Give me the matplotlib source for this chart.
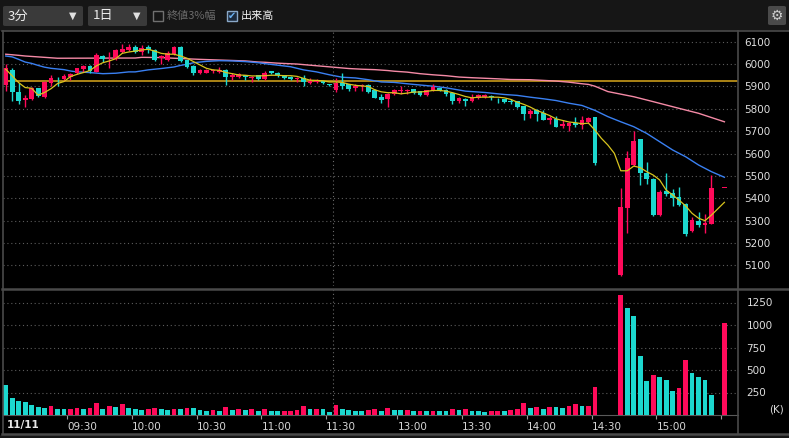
import matplotlib
matplotlib.use("Agg")
import matplotlib.pyplot as plt
from matplotlib.patches import Rectangle, FancyBboxPatch
from matplotlib.lines import Line2D

# 3-minute slots: morning 09:00-11:30 (0..50), afternoon 12:30-15:30 (51..111)
slots = list(range(0, 92)) + list(range(95, 110)) + [111]

opens = [5905, 5974, 5876, 5838, 5843, 5892, 5851, 5917, 5934, 5935,
         5944, 5961, 5977, 5992, 5966, 6036, 6025, 6024, 6054, 6064,
         6076, 6055, 6076, 6063, 6027, 6018, 6045, 6076, 6018, 5992,
         5962, 5962, 5968, 5965, 5974, 5941, 5944, 5950, 5938, 5950,
         5935, 5967, 5962, 5950, 5944, 5934, 5937, 5917, 5920, 5923,
         5908, 5884, 5917, 5910, 5892, 5900, 5908, 5884, 5855, 5843,
         5866, 5880, 5879, 5887, 5878, 5861, 5879, 5891, 5885, 5872,
         5833, 5846, 5833, 5849, 5852, 5857, 5846, 5842, 5834, 5834,
         5811, 5775, 5793, 5781, 5748, 5755, 5724, 5721, 5736, 5729,
         5740, 5762,
         5057, 5358, 5549, 5664, 5514, 5486, 5325, 5432, 5422, 5407,
         5375, 5254, 5298, 5282, 5285,
         5445]
highs = [5999, 5981, 5917, 5861, 5899, 5894, 5925, 5951, 5944, 5954,
         5962, 5984, 5995, 5995, 6048, 6040, 6054, 6069, 6088, 6088,
         6083, 6083, 6083, 6066, 6040, 6058, 6080, 6080, 6020, 5994,
         5976, 5977, 5980, 5987, 5977, 5959, 5962, 5953, 5946, 5952,
         5970, 5970, 5965, 5952, 5946, 5944, 5950, 5938, 5932, 5926,
         5910, 5937, 5960, 5912, 5910, 5912, 5913, 5887, 5865, 5870,
         5890, 5900, 5887, 5890, 5880, 5885, 5909, 5893, 5888, 5875,
         5852, 5848, 5867, 5867, 5864, 5861, 5848, 5845, 5845, 5836,
         5812, 5800, 5797, 5796, 5770, 5770, 5748, 5739, 5763, 5770,
         5763, 5765,
         5447, 5613, 5702, 5667, 5561, 5490, 5435, 5514, 5442, 5449,
         5378, 5318, 5337, 5330, 5504,
         5445]
lows = [5880, 5833, 5821, 5810, 5840, 5851, 5849, 5902, 5902, 5924,
        5929, 5955, 5964, 5960, 5963, 6010, 5984, 6020, 6050, 6057,
        6048, 6040, 6051, 6015, 6000, 6014, 6040, 6010, 5981, 5951,
        5955, 5958, 5962, 5962, 5907, 5929, 5938, 5928, 5918, 5930,
        5928, 5955, 5944, 5934, 5928, 5922, 5902, 5913, 5914, 5910,
        5903, 5875, 5887, 5880, 5880, 5880, 5872, 5848, 5828, 5808,
        5862, 5867, 5867, 5867, 5857, 5858, 5878, 5878, 5857, 5820,
        5825, 5811, 5830, 5845, 5849, 5840, 5825, 5828, 5822, 5805,
        5752, 5759, 5744, 5748, 5730, 5718, 5715, 5700, 5718, 5708,
        5738, 5550,
        5054, 5244, 5545, 5459, 5463, 5320, 5320, 5412, 5366, 5366,
        5232, 5251, 5270, 5244, 5283,
        5445]
closes = [5981, 5873, 5835, 5847, 5892, 5858, 5920, 5939, 5931, 5947,
          5956, 5981, 5992, 5969, 6041, 6021, 6028, 6063, 6066, 6076,
          6054, 6073, 6063, 6018, 6034, 6051, 6076, 6014, 5988, 5962,
          5974, 5972, 5974, 5974, 5940, 5950, 5955, 5940, 5942, 5935,
          5962, 5958, 5950, 5937, 5931, 5938, 5920, 5926, 5926, 5914,
          5905, 5914, 5902, 5887, 5902, 5907, 5875, 5850, 5840, 5868,
          5883, 5885, 5882, 5870, 5861, 5882, 5897, 5882, 5867, 5834,
          5849, 5833, 5849, 5861, 5861, 5852, 5842, 5830, 5830, 5808,
          5775, 5790, 5775, 5751, 5760, 5718, 5730, 5736, 5729, 5748,
          5760, 5556,
          5362, 5579, 5657, 5514, 5485, 5325, 5430, 5420, 5403, 5370,
          5239, 5303, 5281, 5288, 5447,
          5445]

volume_k = [333, 192, 155, 144, 111, 89, 78, 100, 67, 67,
            67, 81, 67, 78, 133, 67, 100, 89, 122, 78,
            67, 55, 67, 78, 67, 55, 67, 67, 78, 78,
            55, 44, 55, 44, 89, 55, 67, 55, 67, 44,
            67, 44, 44, 44, 44, 55, 100, 67, 67, 67,
            33, 111, 67, 55, 44, 44, 55, 67, 44, 78,
            55, 55, 55, 44, 44, 44, 44, 44, 44, 67,
            55, 67, 44, 44, 33, 44, 44, 44, 55, 67,
            133, 78, 89, 67, 89, 89, 78, 100, 122, 100,
            100, 311,
            1332, 1188, 1099, 655, 377, 444, 422, 389, 266, 300,
            610, 466, 422, 389, 222,
            1021]
volume_up = [0, 0, 0, 0, 0, 0, 0, 1, 0, 0,
             1, 1, 0, 1, 1, 0, 1, 0, 1, 0,
             0, 0, 1, 1, 0, 0, 1, 0, 1, 0,
             0, 0, 1, 0, 1, 0, 1, 0, 1, 0,
             1, 0, 0, 1, 1, 1, 1, 0, 1, 0,
             0, 1, 0, 0, 0, 0, 1, 1, 0, 1,
             0, 0, 1, 0, 1, 0, 1, 0, 0, 1,
             0, 1, 0, 0, 0, 1, 1, 0, 1, 1,
             1, 0, 1, 0, 1, 0, 0, 1, 1, 0,
             1, 1,
             1, 0, 0, 0, 0, 1, 0, 0, 0, 1,
             1, 0, 0, 0, 0,
             1]

ma_short_k = list(range(0, 110)) + [111]
ma_short = [5977, 5947, 5917, 5895, 5892, 5861, 5873, 5890, 5913, 5922,
            5944, 5954, 5962, 5971, 5992, 6006, 6014, 6024, 6048, 6054,
            6058, 6063, 6066, 6058, 6048, 6044, 6044, 6036, 6026, 6011,
            5996, 5981, 5974, 5972, 5962, 5957, 5951, 5950, 5947, 5947,
            5948, 5950, 5950, 5948, 5948, 5945, 5936, 5928, 5927, 5925,
            5920, 5920, 5918, 5910, 5905, 5902, 5900, 5885, 5876, 5872,
            5872, 5867, 5870, 5875, 5875, 5878, 5882, 5882, 5879, 5872,
            5864, 5855, 5849, 5852, 5852, 5852, 5852, 5849, 5842, 5830,
            5820, 5808, 5793, 5782, 5770, 5755, 5748, 5741, 5738, 5733,
            5736, 5705, 5668, 5638, 5601, 5523, 5523, 5544, 5537, 5519,
            5504, 5482, 5437, 5415, 5392, 5366, 5333, 5311, 5300, 5325,
            5382]

ma_mid_k = [0, 1, 2, 3, 4, 5, 6, 7, 8, 9, 10, 11, 13, 15, 17, 19, 20, 22, 24,
            26, 27, 28, 29, 31, 33, 35, 37, 39, 40, 42, 44, 46, 48, 50, 52,
            54, 56, 58, 60, 63, 66, 68, 71, 74, 77, 79, 81, 83, 85, 87, 89,
            91, 93, 95, 97, 99, 101, 103, 105, 107, 109, 111]
ma_mid = [6036, 6032, 6021, 6009, 6003, 5994, 5986, 5981, 5978, 5975, 5969,
          5965, 5962, 5957, 5959, 5965, 5965, 5974, 5980, 5987, 5994, 5999,
          6006, 6012, 6015, 6014, 6011, 6006, 6002, 5995, 5988, 5974, 5965,
          5952, 5941, 5938, 5930, 5920, 5918, 5909, 5901, 5894, 5879, 5873,
          5864, 5860, 5852, 5845, 5837, 5825, 5815, 5793, 5765, 5742, 5720,
          5690, 5653, 5616, 5586, 5549, 5519, 5494]

ma_long_k = [0, 2, 3, 5, 8, 20, 21, 24, 26, 30, 33, 37, 39, 40, 42, 45, 47,
             49, 51, 53, 55, 57, 59, 60, 62, 64, 66, 68, 70, 72, 76, 78, 81,
             83, 85, 87, 89, 90, 91, 93, 97, 100, 102, 104, 107, 111]
ma_long = [6044, 6039, 6036, 6032, 6026, 6027, 6030, 6029, 6026, 6021, 6018,
           6014, 6009, 6008, 6004, 6000, 5995, 5990, 5985, 5980, 5977, 5975,
           5971, 5968, 5964, 5957, 5952, 5948, 5942, 5939, 5934, 5931, 5930,
           5927, 5924, 5919, 5912, 5909, 5901, 5877, 5854, 5832, 5817, 5802,
           5780, 5742]

prev_close = 5924
price_ticks = [5100, 5200, 5300, 5400, 5500, 5600, 5700, 5800, 5900, 6000, 6100]
volume_ticks = [250, 500, 750, 1000, 1250]
time_tick_slots = [10, 20, 30, 40, 50, 61, 71, 81, 91, 101, 111]
time_labels = ["09:30", "10:00", "10:30", "11:00", "11:30", "13:00",
               "13:30", "14:00", "14:30", "15:00", ""]
session_break = 51

UP = "#ff0a5a"
DOWN = "#1cd8cf"
GRID = "#5c5c5c"
EDGE = "#4a4a4a"
W, H = 789, 438


def fx(px):
    return px / W


def fy(py):
    return 1 - py / H


fig = plt.figure(figsize=(W / 100, H / 100), dpi=100, facecolor="#161616")
fig.patches.append(Rectangle((0, fy(434)), 1, fy(30.5) - fy(434),
                             transform=fig.transFigure, color="#000000",
                             zorder=-10))

ax = fig.add_axes([fx(2.5), fy(286), fx(735.5), (286 - 30.5) / H])
axv = fig.add_axes([fx(2.5), fy(415), fx(735.5), (415 - 289) / H], sharex=ax)
for a in (ax, axv):
    a.set_facecolor("#000000")
    for s in a.spines.values():
        s.set_visible(False)

# candles
xs = [k + 0.5 for k in slots]
colors = [UP if c >= o else DOWN for o, c in zip(opens, closes)]
ax.vlines(xs, lows, highs, colors=colors, lw=1, zorder=3)
body_bottom = [min(o, c) for o, c in zip(opens, closes)]
body_height = [max(abs(c - o), 4) for o, c in zip(opens, closes)]
ax.bar(xs, body_height, bottom=body_bottom, width=0.74, color=colors,
       linewidth=0, zorder=4)

# lines
ax.axhline(prev_close, color="#d9a81c", lw=1.1, zorder=2)
ax.plot([k + 0.5 for k in ma_long_k], ma_long, color="#f58aa6", lw=1, zorder=2)
ax.plot([k + 0.5 for k in ma_mid_k], ma_mid, color="#3a80f2", lw=1, zorder=2)
ax.plot([k + 0.5 for k in ma_short_k], ma_short, color="#d8c41e", lw=0.9, zorder=5)

ax.set_xlim(0, 113.6)
ax.set_ylim(5008, 6150)
ax.set_yticks(price_ticks)
ax.yaxis.tick_right()
ax.tick_params(axis="y", length=0, pad=4.5, labelsize=7.5, labelcolor="#dedede")
ax.tick_params(axis="x", bottom=False, labelbottom=False)
ax.grid(axis="y", color=GRID, linestyle=(0, (1, 2.5)), lw=0.8)
ax.axvline(session_break, color="#6a6a6a", linestyle=(0, (1, 2.5)), lw=0.8)

# volume
vcol = [UP if u else DOWN for u in volume_up]
axv.bar(xs, volume_k, width=0.74, color=vcol, linewidth=0, zorder=3)
axv.set_ylim(0, 1400)
axv.set_yticks(volume_ticks)
axv.yaxis.tick_right()
axv.tick_params(axis="y", length=0, pad=6, labelsize=7.5, labelcolor="#dedede")
axv.grid(axis="y", color=GRID, linestyle=(0, (1, 2.5)), lw=0.8)
axv.axvline(session_break, color="#6a6a6a", linestyle=(0, (1, 2.5)), lw=0.8)
axv.set_xticks(time_tick_slots)
axv.set_xticklabels(time_labels)
axv.tick_params(axis="x", length=3, color="#9a9a9a", pad=2, labelsize=7.5,
                labelcolor="#d8d8d8")
for lbl in axv.get_xticklabels():
    lbl.set_ha("left")
axv.spines["bottom"].set_visible(True)
axv.spines["bottom"].set_color("#5a5a5a")

fig.text(fx(7), fy(425), "11/11", color="#e8e8e8", fontsize=7.5,
         fontweight="bold", va="center", ha="left")
fig.text(fx(769), fy(409), "(K)", color="#d8d8d8", fontsize=7.5,
         va="center", ha="left")

# frame lines
def hline(y, x0, x1, lw=1.2):
    fig.lines.append(Line2D([fx(x0), fx(x1)], [fy(y), fy(y)], color=EDGE,
                            lw=lw, transform=fig.transFigure))


def vline(x, y0, y1, lw=1.2):
    fig.lines.append(Line2D([fx(x), fx(x)], [fy(y0), fy(y1)], color=EDGE,
                            lw=lw, transform=fig.transFigure))


hline(30.5, 2, 789)
hline(288.5, 2, 789, lw=1.8)
hline(434, 2, 789, lw=1.8)
vline(2.5, 30.5, 434)
vline(738, 30.5, 434)

# header controls
CJK = ["Noto Sans CJK JP", "DejaVu Sans"]
for x0, x1, label in [(3, 83, "3分"), (88, 147, "1日")]:
    fig.patches.append(FancyBboxPatch((fx(x0), fy(26)), fx(x1 - x0), 20 / H,
                                      boxstyle="round,pad=0,rounding_size=0.003",
                                      transform=fig.transFigure,
                                      facecolor="#3a3a3a", edgecolor="none"))
    fig.text(fx(x0 + 5), fy(16), label, color="#ececec", fontsize=9.5,
             family=CJK, va="center", ha="left")
    fig.text(fx(x1 - 10), fy(16), "▼", color="#e0e0e0", fontsize=7,
             va="center", ha="center")

fig.patches.append(Rectangle((fx(153), fy(21)), fx(10), 10 / H,
                             transform=fig.transFigure, facecolor="none",
                             edgecolor="#707070", lw=1))
fig.text(fx(167), fy(16), "終値3%幅", color="#6c6c6c", fontsize=8,
         family=CJK, va="center", ha="left")
fig.patches.append(Rectangle((fx(227), fy(21)), fx(10), 10 / H,
                             transform=fig.transFigure, facecolor="#1c2a3c",
                             edgecolor="#8aa8c8", lw=1))
fig.text(fx(232), fy(16), "✔", color="#6ab0f0", fontsize=7,
         va="center", ha="center")
fig.text(fx(241), fy(16), "出来高", color="#f2f2f2", fontsize=8,
         family=CJK, va="center", ha="left")

fig.patches.append(FancyBboxPatch((fx(768), fy(25)), fx(18), 19 / H,
                                  boxstyle="round,pad=0,rounding_size=0.003",
                                  transform=fig.transFigure,
                                  facecolor="#4a4a4a", edgecolor="none"))
fig.text(fx(777), fy(15.5), "⚙", color="#cfcfcf", fontsize=10,
         va="center", ha="center")

fig.savefig("out.png", dpi=100, facecolor=fig.get_facecolor())
